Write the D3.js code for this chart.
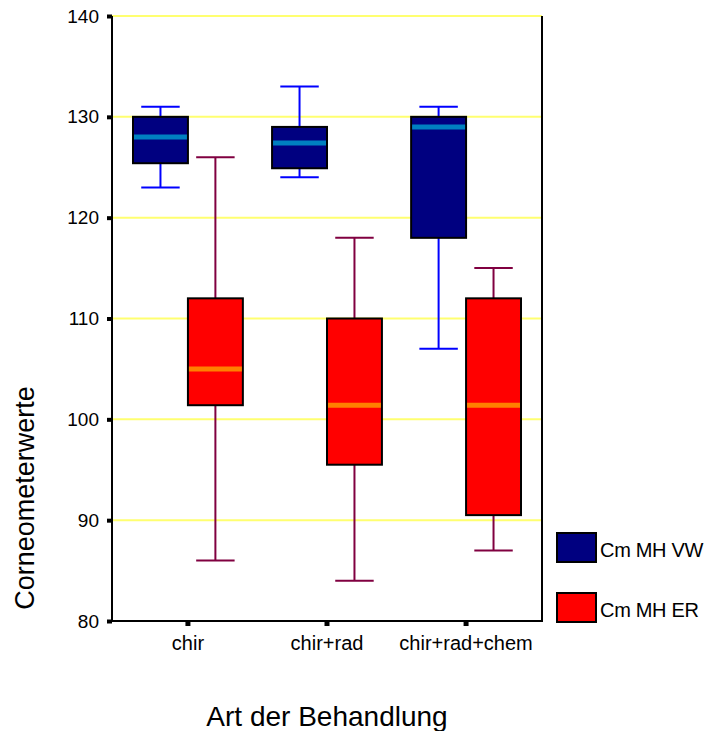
<!DOCTYPE html>
<html>
<head>
<meta charset="utf-8">
<script src="https://cdn.jsdelivr.net/npm/d3@7"></script>
<style>
  html, body { margin: 0; padding: 0; background: #fff; }
  svg { display: block; font-family: Arial, "Liberation Sans", sans-serif; }
</style>
</head>
<body>
<svg id="chart" width="713" height="731"></svg>
<script>
// Treatment groups and the two measurement series
const categories = ["chir", "chir+rad", "chir+rad+chem"];
const seriesNames = ["Cm MH VW", "Cm MH ER"];

// Box plot statistics per series, in category order
const vwLow    = [123, 124, 107];
const vwQ1     = [125.4, 124.9, 118];
const vwMedian = [128, 127.4, 129];
const vwQ3     = [130, 129, 130];
const vwHigh   = [131, 133, 131];

const erLow    = [86, 84, 87];
const erQ1     = [101.4, 95.5, 90.5];
const erMedian = [105, 101.4, 101.4];
const erQ3     = [112, 110, 112];
const erHigh   = [126, 118, 115];

const yTicks = [80, 90, 100, 110, 120, 130, 140];

const seriesStyle = {
  "Cm MH VW": { fill: "#000080", median: "#0080C0", whisker: "#0000FF" },
  "Cm MH ER": { fill: "#FF0000", median: "#FF8000", whisker: "#800040" }
};

const rows = [];
categories.forEach((c, i) => {
  rows.push({ cat: c, series: seriesNames[0], low: vwLow[i], q1: vwQ1[i], med: vwMedian[i], q3: vwQ3[i], high: vwHigh[i] });
  rows.push({ cat: c, series: seriesNames[1], low: erLow[i], q1: erQ1[i], med: erMedian[i], q3: erQ3[i], high: erHigh[i] });
});

const svg = d3.select("#chart");
const plot = { left: 112, right: 542, top: 16, bottom: 621 };

const y = d3.scaleLinear().domain([80, 140]).range([plot.bottom, plot.top]);
const x = d3.scaleBand().domain(categories).range([133, 521]).paddingInner(0.21).paddingOuter(0);
const xs = d3.scaleBand().domain(seriesNames).range([0, x.bandwidth()]);

// Horizontal grid lines
svg.append("g")
  .selectAll("line")
  .data(yTicks.filter(t => t > 80))
  .join("line")
  .attr("x1", plot.left).attr("x2", plot.right)
  .attr("y1", d => y(d)).attr("y2", d => y(d))
  .attr("stroke", "#FFFF70").attr("stroke-width", 2);

// Frame: right edge
svg.append("line")
  .attr("x1", plot.right).attr("x2", plot.right)
  .attr("y1", plot.top).attr("y2", plot.bottom)
  .attr("stroke", "#000").attr("stroke-width", 2);

// Boxes
const groups = svg.append("g").selectAll("g")
  .data(rows)
  .join("g")
  .attr("transform", d => `translate(${x(d.cat) + xs(d.series)},0)`);

const bw = xs.bandwidth();
const capW = bw * 0.7;

groups.append("line")
  .attr("x1", bw / 2).attr("x2", bw / 2)
  .attr("y1", d => y(d.high)).attr("y2", d => y(d.low))
  .attr("stroke", d => seriesStyle[d.series].whisker).attr("stroke-width", 2);
groups.append("line")
  .attr("x1", (bw - capW) / 2).attr("x2", (bw + capW) / 2)
  .attr("y1", d => y(d.high)).attr("y2", d => y(d.high))
  .attr("stroke", d => seriesStyle[d.series].whisker).attr("stroke-width", 2);
groups.append("line")
  .attr("x1", (bw - capW) / 2).attr("x2", (bw + capW) / 2)
  .attr("y1", d => y(d.low)).attr("y2", d => y(d.low))
  .attr("stroke", d => seriesStyle[d.series].whisker).attr("stroke-width", 2);
groups.append("rect")
  .attr("x", 0).attr("width", bw)
  .attr("y", d => y(d.q3)).attr("height", d => y(d.q1) - y(d.q3))
  .attr("fill", d => seriesStyle[d.series].fill)
  .attr("stroke", "#000").attr("stroke-width", 2);
groups.append("line")
  .attr("x1", 1).attr("x2", bw - 1)
  .attr("y1", d => y(d.med)).attr("y2", d => y(d.med))
  .attr("stroke", d => seriesStyle[d.series].median).attr("stroke-width", 5);

// Y axis
const yAxis = svg.append("g")
  .attr("transform", `translate(${plot.left},0)`)
  .call(d3.axisLeft(y).tickValues(yTicks).tickSize(5).tickPadding(8));
yAxis.select(".domain").attr("stroke", "#000").attr("stroke-width", 2)
  .attr("d", `M0,${plot.top}V${plot.bottom}`);
yAxis.selectAll(".tick line").attr("stroke", "#000").attr("stroke-width", 4);
yAxis.selectAll(".tick text").attr("font-size", 19).attr("fill", "#000");

// X axis
const xAxis = svg.append("g")
  .attr("transform", `translate(0,${plot.bottom})`)
  .call(d3.axisBottom(x).tickSize(5).tickPadding(10));
xAxis.select(".domain").attr("stroke", "#000").attr("stroke-width", 2)
  .attr("d", `M${plot.left - 5},0H${plot.right + 1}`);
xAxis.selectAll(".tick line").attr("stroke", "#000").attr("stroke-width", 5);
xAxis.selectAll(".tick text").attr("font-size", 20).attr("fill", "#000");

// Axis titles
svg.append("text")
  .attr("x", 327).attr("y", 726)
  .attr("text-anchor", "middle").attr("font-size", 28)
  .text("Art der Behandlung");
svg.append("text")
  .attr("transform", "translate(34,498) rotate(-90)")
  .attr("text-anchor", "middle").attr("font-size", 27)
  .text("Corneometerwerte");

// Legend
const legend = svg.append("g").selectAll("g")
  .data(seriesNames)
  .join("g")
  .attr("transform", (d, i) => `translate(557,${533 + i * 60})`);
legend.append("rect")
  .attr("width", 39).attr("height", 29)
  .attr("fill", d => seriesStyle[d].fill)
  .attr("stroke", "#000").attr("stroke-width", 2);
legend.append("text")
  .attr("x", 43).attr("y", 24)
  .attr("font-size", 20).attr("letter-spacing", -0.3)
  .text(d => d);
</script>
</body>
</html>
